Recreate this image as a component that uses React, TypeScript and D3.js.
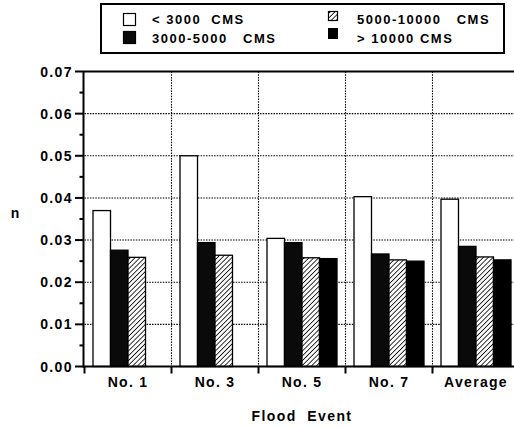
import React from 'react';
import * as d3 from 'd3';

const categories = ['No. 1', 'No. 3', 'No. 5', 'No. 7', 'Average'];
const seriesNames = ['< 3000  CMS', '3000-5000   CMS', '5000-10000   CMS', '> 10000 CMS'];
// values, null = no bar
const lt3000 = [0.037, 0.050, 0.0304, 0.0403, 0.0397];
const s3000to5000 = [0.0276, 0.0294, 0.0294, 0.0267, 0.0285];
const s5000to10000 = [0.0259, 0.0264, 0.0258, 0.0253, 0.026];
const gt10000 = [null, null, 0.0256, 0.025, 0.0253];
const yTicks = [0, 0.01, 0.02, 0.03, 0.04, 0.05, 0.06, 0.07];
const yMinor = [0.005, 0.015, 0.025, 0.035, 0.045, 0.055, 0.065];

const allSeries = [lt3000, s3000to5000, s5000to10000, gt10000];
const fills = ['#fff', '#0a0a0a', 'url(#hatch)', '#000'];

const font = "'Liberation Sans', Arial, sans-serif";

export default function App() {
  const x = d3.scaleBand().domain(categories).range([84.5, 519.5]).padding(0);
  const inner = d3
    .scaleBand()
    .domain(d3.range(4).map(String))
    .range([8.5, 78.5]);
  const y = d3.scaleLinear().domain([0, 0.07]).range([366.5, 71.5]);
  const bw = x.bandwidth();

  return (
    <svg
      width={514}
      height={427}
      style={{ position: 'absolute', left: 0, top: 0, background: '#fff' }}
      fontFamily={font}
      fontWeight="bold"
    >
      <defs>
        <pattern id="hatch" patternUnits="userSpaceOnUse" width={3.4} height={3.4} patternTransform="rotate(45)">
          <rect width={3.4} height={3.4} fill="#fff" />
          <line x1={0} y1={0} x2={0} y2={3.4} stroke="#000" strokeWidth={1.6} />
        </pattern>
      </defs>

      {/* legend */}
      <rect x={101} y={4} width={403} height={49} fill="#fff" stroke="#000" strokeWidth={2} />
      <rect x={123.5} y={13.5} width={12} height={12} fill="#fff" stroke="#000" strokeWidth={1.2} />
      <rect x={123.5} y={31.5} width={12} height={12} fill={fills[1]} stroke="#000" strokeWidth={1.2} />
      <rect x={328.5} y={11.5} width={9} height={9} fill={fills[2]} stroke="#000" strokeWidth={1.2} />
      <rect x={328} y={28} width={10} height={11} fill={fills[3]} />
      <g fontSize={13} letterSpacing={1.5}>
        <text x={152} y={24} xmlSpace="preserve">{seriesNames[0]}</text>
        <text x={152} y={43} xmlSpace="preserve">{seriesNames[1]}</text>
        <text x={357} y={24} xmlSpace="preserve">{seriesNames[2]}</text>
        <text x={357} y={43} xmlSpace="preserve">{seriesNames[3]}</text>
      </g>

      {/* grid */}
      {yTicks.slice(1, -1).map((t) => (
        <line key={t} x1={84.5} x2={514} y1={y(t)} y2={y(t)} stroke="#000" strokeWidth={1.1} strokeDasharray="1.5,1.2" />
      ))}
      {categories.slice(1).map((c) => (
        <line key={c} x1={x(c)} x2={x(c)} y1={y(0.07)} y2={y(0)} stroke="#000" strokeWidth={1.1} strokeDasharray="1.5,1.2" />
      ))}

      {/* bars */}
      {categories.map((c, i) => (
        <g key={c} transform={`translate(${x(c)},0)`}>
          {allSeries.map((s, k) =>
            s[i] == null ? null : (
              <rect
                key={k}
                x={inner(String(k))}
                y={y(s[i] as number)}
                width={inner.bandwidth()}
                height={y(0) - y(s[i] as number)}
                fill={fills[k]}
                stroke="#000"
                strokeWidth={1.3}
              />
            )
          )}
        </g>
      ))}

      {/* axes */}
      <line x1={84} x2={514} y1={y(0.07)} y2={y(0.07)} stroke="#000" strokeWidth={2} />
      <line x1={83.5} x2={83.5} y1={y(0.07)} y2={y(0) + 1} stroke="#000" strokeWidth={2} />
      <line x1={83} x2={514} y1={y(0)} y2={y(0)} stroke="#000" strokeWidth={2} />
      {yTicks.map((t) => (
        <g key={t}>
          <line x1={75} x2={84} y1={y(t)} y2={y(t)} stroke="#000" strokeWidth={2} />
          <text x={73} y={y(t) + 5} fontSize={14} letterSpacing={1.4} textAnchor="end">
            {d3.format('.2f')(t)}
          </text>
        </g>
      ))}
      {yMinor.map((t) => (
        <line key={t} x1={79.5} x2={84} y1={y(t)} y2={y(t)} stroke="#000" strokeWidth={2} />
      ))}
      {categories.map((c) => (
        <line key={c} x1={x(c)} x2={x(c)} y1={y(0)} y2={y(0) + 7} stroke="#000" strokeWidth={2} />
      ))}
      {categories.map((c) => (
        <text key={c} x={(x(c) as number) + bw / 2} y={387} fontSize={14} letterSpacing={1.3} textAnchor="middle">
          {c}
        </text>
      ))}
      <text x={302} y={421} fontSize={14} letterSpacing={1.4} textAnchor="middle" xmlSpace="preserve">
        {'Flood  Event'}
      </text>
      <text x={15} y={218} fontSize={14} textAnchor="middle">n</text>
    </svg>
  );
}
